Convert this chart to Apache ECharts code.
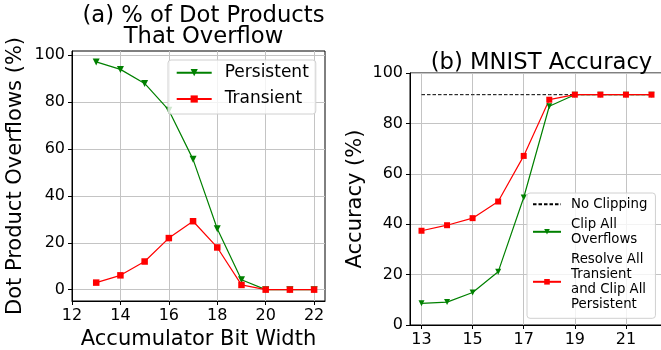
<!DOCTYPE html>
<html><head><meta charset="utf-8">
<script src="https://cdn.jsdelivr.net/npm/echarts@6/dist/echarts.min.js"></script>
<style>html,body{margin:0;padding:0;background:#fff}#c{width:661px;height:350px}</style>
</head><body><div id="c"></div>
<script>
const bits = [13, 14, 15, 16, 17, 18, 19, 20, 21, 22];
const persistent = [97.2, 94, 88, 76.6, 55.6, 26, 4.2, 0, 0, 0];
const transient = [3, 6.1, 12, 22, 29.2, 18, 2, 0, 0, 0];
const clipAll = [8.6, 9.1, 12.9, 21.1, 50.6, 86.8, 91.4, 91.4, 91.4, 91.4];
const resolveTransient = [37.4, 39.6, 42.4, 49, 67.1, 89.4, 91.4, 91.4, 91.4, 91.4];
const noClipping = [91.4, 91.4, 91.4, 91.4, 91.4, 91.4, 91.4, 91.4, 91.4, 91.4];
const leftXTicks = [12, 14, 16, 18, 20, 22];
const leftYTicks = [0, 20, 40, 60, 80, 100];
const rightXTicks = [13, 15, 17, 19, 21];
const rightYTicks = [0, 20, 40, 60, 80, 100];

const F = 'DejaVu Sans';
const pairs = (ys) => bits.map((x, i) => [x, ys[i]]);
const gridLine = { show: true, lineStyle: { color: '#c4c4c4', width: 1 } };
function xAx(gi, min, max, ticks, name) {
  return {
    type: 'value', gridIndex: gi, min: min, max: max,
    axisLine: { show: true, onZero: false, lineStyle: { color: '#000', width: 1 } },
    axisTick: { show: true, inside: false, length: 4, customValues: ticks, lineStyle: { color: '#000' } },
    axisLabel: { customValues: ticks, fontFamily: F, fontSize: 16, color: '#000', margin: 7 },
    splitLine: gridLine,
    name: name || '', nameLocation: 'middle', nameGap: 26,
    nameTextStyle: { fontFamily: F, fontSize: 21, color: '#000' }
  };
}
function yAx(gi, min, max, ticks, name, gap) {
  return {
    type: 'value', gridIndex: gi, min: min, max: max,
    axisLine: { show: true, onZero: false, lineStyle: { color: '#000', width: 1 } },
    axisTick: { show: true, inside: false, length: 4, customValues: ticks, lineStyle: { color: '#000' } },
    axisLabel: { customValues: ticks, fontFamily: F, fontSize: 16, color: '#000', margin: 7 },
    splitLine: gridLine,
    name: name, nameLocation: 'middle', nameGap: gap, nameRotate: 90,
    nameTextStyle: { fontFamily: F, fontSize: 21, color: '#000' }
  };
}
const chart = echarts.init(document.getElementById('c'), null, { renderer: 'canvas' });
chart.setOption({
  animation: false,
  backgroundColor: '#fff',
  title: [
    { text: '(a) % of Dot Products\nThat Overflow', left: 198.5, top: 0, textAlign: 'center',
      textStyle: { fontFamily: F, fontSize: 22.7, fontWeight: 'normal', color: '#000', lineHeight: 21.5 } },
    { text: '(b) MNIST Accuracy', left: 536.5, top: 47, textAlign: 'center',
      textStyle: { fontFamily: F, fontSize: 22.7, fontWeight: 'normal', color: '#000' } }
  ],
  grid: [
    { left: 72, top: 51, right: 336, bottom: 49, containLabel: false, outerBoundsMode: 'none',
      show: true, borderColor: '#000', borderWidth: 1, backgroundColor: 'transparent' },
    { left: 410, top: 73, right: -2, bottom: 25, containLabel: false, outerBoundsMode: 'none',
      show: true, borderColor: '#000', borderWidth: 1, backgroundColor: 'transparent' }
  ],
  xAxis: [
    xAx(0, 12, 22.45, leftXTicks, 'Accumulator Bit Width'),
    xAx(1, 12.55, 22.45, rightXTicks, '')
  ],
  yAxis: [
    yAx(0, -4.85, 101.85, leftYTicks, 'Dot Product Overflows (%)', 46),
    yAx(1, 0, 100, rightYTicks, 'Accuracy (%)', 44)
  ],
  legend: [
    { orient: 'vertical', left: 168, top: 60, padding: [2.7, 7, 5, 7.7], itemWidth: 35, itemHeight: 9, itemGap: 6.3,
      selectedMode: false, backgroundColor: 'rgba(255,255,255,0.8)', borderColor: '#d0d0d0', borderWidth: 1, borderRadius: 3,
      textStyle: { fontFamily: F, fontSize: 17, lineHeight: 20, color: '#000', padding: [0, 0, 0, 8] },
      data: ['Persistent', 'Transient'] },
    { orient: 'vertical', left: 527, top: 193, padding: [3.8, 8, 6.5, 5], itemWidth: 28, itemHeight: 7, itemGap: 5,
      selectedMode: false, backgroundColor: 'rgba(255,255,255,0.8)', borderColor: '#d0d0d0', borderWidth: 1, borderRadius: 3,
      textStyle: { fontFamily: F, fontSize: 13.3, lineHeight: 15, color: '#000', padding: [0, 0, 0, 5] },
      data: [{ name: 'No Clipping', itemStyle: { opacity: 0 } }, 'Clip All\nOverflows', 'Resolve All\nTransient\nand Clip All\nPersistent'] }
  ],
  series: [
    { name: 'Persistent', type: 'line', xAxisIndex: 0, yAxisIndex: 0, data: pairs(persistent),
      symbol: 'triangle', symbolRotate: 180, symbolSize: 7, color: '#008000',
      lineStyle: { color: '#008000', width: 1.2 }, itemStyle: { color: '#008000' } },
    { name: 'Transient', type: 'line', xAxisIndex: 0, yAxisIndex: 0, data: pairs(transient),
      symbol: 'rect', symbolSize: 6.5, color: '#ff0000',
      lineStyle: { color: '#ff0000', width: 1.2 }, itemStyle: { color: '#ff0000' } },
    { name: 'No Clipping', type: 'line', xAxisIndex: 1, yAxisIndex: 1, data: pairs(noClipping),
      symbol: 'none', color: '#000',
      lineStyle: { color: '#000', width: 1, type: [3.5, 2] } },
    { name: 'Clip All\nOverflows', type: 'line', xAxisIndex: 1, yAxisIndex: 1, data: pairs(clipAll),
      symbol: 'triangle', symbolRotate: 180, symbolSize: 6, color: '#008000',
      lineStyle: { color: '#008000', width: 1.2 }, itemStyle: { color: '#008000' } },
    { name: 'Resolve All\nTransient\nand Clip All\nPersistent', type: 'line', xAxisIndex: 1, yAxisIndex: 1, data: pairs(resolveTransient),
      symbol: 'rect', symbolSize: 6, color: '#ff0000',
      lineStyle: { color: '#ff0000', width: 1.2 }, itemStyle: { color: '#ff0000' } }
  ]
});
</script></body></html>
